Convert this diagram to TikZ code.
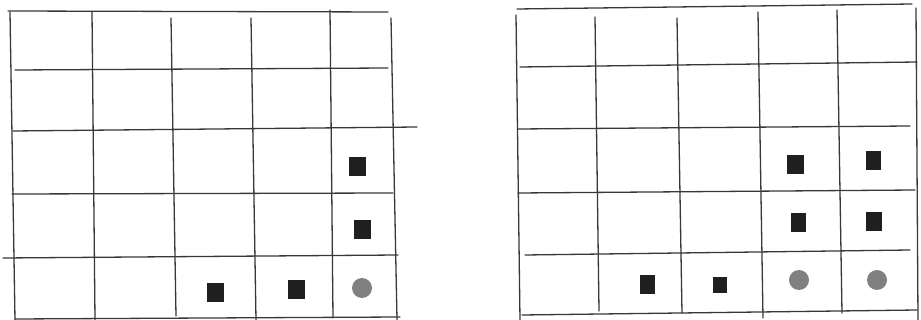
\documentclass[tikz,border=0pt]{standalone}
\begin{document}
\begin{tikzpicture}[x=1pt,y=-1pt,
  gridline/.style={draw=black!78,line width=1.3pt,line cap=round},
  mark sq/.style={draw=none,fill=black!88,minimum width=17pt,minimum height=19pt,inner sep=0pt},
  mark dot/.style={circle,draw=none,fill=black!50,minimum size=20pt,inner sep=0pt}]
\useasboundingbox (0,0) rectangle (921,320);
% left grid
\draw[gridline] (8,11) -- (388,12);
\draw[gridline] (15,70) -- (388,68);
\draw[gridline] (13,131) -- (417,127);
\draw[gridline] (12,194) -- (393,193);
\draw[gridline] (3,258) -- (398,255);
\draw[gridline] (15,319) -- (400,317);
\draw[gridline] (10,12) -- (15,320);
\draw[gridline] (92,12) -- (95,320);
\draw[gridline] (171,18) -- (176,316);
\draw[gridline] (251,18) -- (256,320);
\draw[gridline] (330,10) -- (333,318);
\draw[gridline] (391,18) -- (397,320);
% right grid
\draw[gridline] (517,9) -- (912,4);
\draw[gridline] (520,67) -- (917,62);
\draw[gridline] (518,129) -- (910,126);
\draw[gridline] (518,193) -- (915,190);
\draw[gridline] (525,255) -- (910,250);
\draw[gridline] (522,315) -- (917,310);
\draw[gridline] (516,15) -- (520,320);
\draw[gridline] (595,17) -- (599,311);
\draw[gridline] (677,18) -- (682,313);
\draw[gridline] (758,12) -- (763,318);
\draw[gridline] (837,10) -- (842,313);
\draw[gridline] (916,8) -- (918,320);
% left marks
\node[mark sq] (l1) at (357,167) {};
\node[mark sq] (l2) at (362,230) {};
\node[mark sq] (l3) at (215,293) {};
\node[mark sq] (l4) at (296,290) {};
\node[mark dot] (l5) at (362,288) {};
% right marks
\node[mark sq] (r1) at (795,165) {};
\node[mark sq,minimum width=15pt] (r2) at (873,161) {};
\node[mark sq,minimum width=15pt] (r3) at (798,223) {};
\node[mark sq,minimum width=16pt] (r4) at (874,222) {};
\node[mark sq,minimum width=15pt] (r5) at (647,285) {};
\node[mark sq,minimum width=14pt,minimum height=16pt] (r6) at (720,285) {};
\node[mark dot] (r7) at (799,280) {};
\node[mark dot] (r8) at (877,280) {};
\end{tikzpicture}
\end{document}
